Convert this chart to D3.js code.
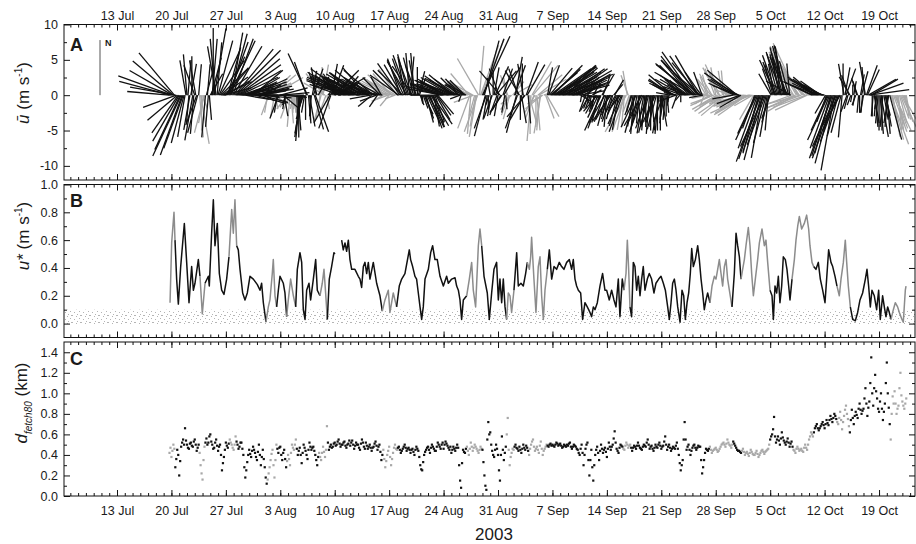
<!DOCTYPE html>
<html>
<head>
<meta charset="utf-8">
<script src="https://cdn.jsdelivr.net/npm/d3@7"></script>
<style>
  body { margin: 0; background: #fff; }
  svg { display: block; }
  text { font-family: "Liberation Sans", Arial, Helvetica, sans-serif; fill: #1a1a1a; }
</style>
</head>
<body>
<svg id="chart" width="916" height="544"></svg>
<script>
// ---- time axis -------------------------------------------------------------
const timeDomain = ["2003-07-06T04:25:00Z", "2003-10-23T15:00:00Z"];
const weekTicks = ["2003-07-13", "2003-07-20", "2003-07-27", "2003-08-03", "2003-08-10",
  "2003-08-17", "2003-08-24", "2003-08-31", "2003-09-07", "2003-09-14", "2003-09-21",
  "2003-09-28", "2003-10-05", "2003-10-12", "2003-10-19"];
const yearLabel = "2003";

// periods (day of year) flagged in grey
const greyPeriods = [[200.75, 201.4], [204.6, 205.3], [208.5, 209.3], [213.3, 214.6],
  [215.8, 217.0], [220.0, 221.0], [228.2, 230.0], [238.9, 240.9], [244.1, 245.0],
  [246.9, 249.3], [259.1, 260.0], [270.2, 273.2], [274.3, 277.9], [280.9, 283.5],
  [286.6, 288.2], [293.5, 295.6]];
const stickGreyPeriods = [[204.6, 205.3], [213.3, 214.6], [215.8, 217.0],
  [220.0, 221.0], [228.2, 230.0], [238.9, 240.9], [244.1, 245.0], [246.9, 249.3],
  [259.1, 260.0], [269.5, 273.2], [274.3, 275.9], [280.7, 283.3], [293.5, 295.6]];

// ---- panel A: mean wind, 3-hourly [direction (deg, towards), speed (m/s)] ----
const windStart = 200.75, windStep = 0.125;
const wind = [
  [275,6.0],[285,7.5],
  [290,8.0],[300,7.0],[310,7.5],[320,7.8],[280,6.5],[250,5.0],[230,5.5],[215,6.5],
  [210,7.5],[205,8.5],[205,9.5],[200,9.0],[200,8.0],[195,7.0],[190,6.0],[350,5.0],
  [355,5.8],[5,5.0],[185,4.0],[190,5.0],[10,4.5],[0,5.5],[190,6.5],[185,5.5],
  [340,4.5],[350,5.0],[200,4.5],[195,5.5],[5,4.4],[175,6.0],[170,7.0],[180,5.0],
  [160,2.0],[190,4.0],[195,5.5],[185,6.0],[15,4.0],[5,4.4],[185,4.5],[175,3.5],
  [30,3.5],[15,5.5],[5,8.0],[0,9.5],[10,9.6],[355,8.0],[350,7.0],[5,7.5],
  [15,8.0],[25,7.0],[35,6.0],[45,5.5],[55,4.5],[65,4.5],[75,4.0],[60,4.0],
  [40,5.0],[25,6.0],[15,7.0],[20,8.0],[25,8.5],[15,9.0],[10,9.0],[20,8.5],
  [30,8.0],[40,8.5],[45,9.0],[50,8.0],[55,7.5],[60,7.0],[65,6.0],[72,5.5],
  [80,5.0],[75,4.5],[70,4.5],[85,4.0],[100,3.5],[90,3.5],[75,4.0],[65,4.5],
  [60,5.0],[70,5.5],[80,5.5],[65,5.5],[50,5.5],[80,5.0],[105,4.5],[90,4.5],
  [70,4.5],[75,5.0],[80,5.0],[95,4.5],[105,4.0],[80,3.5],[60,3.0],[90,2.0],
  [120,1.5],[100,2.0],[90,2.5],[190,2.5],[200,3.0],[60,3.5],[45,4.0],[50,4.5],
  [60,5.0],[120,3.0],[190,3.0],[170,2.0],[150,1.5],[190,2.5],[200,3.5],[90,3.5],
  [75,4.0],[85,4.0],[95,3.5],[130,3.0],[170,3.0],[190,2.0],[200,1.5],[210,2.0],
  [220,2.5],[200,3.5],[185,4.5],[175,4.0],[165,3.5],[180,2.5],[195,2.0],[185,2.0],
  [180,2.5],[178,4.0],[175,5.0],[180,6.0],[185,6.5],[188,6.0],[190,5.5],[195,3.5],
  [200,2.0],[190,2.5],[180,3.5],[340,5.0],[335,6.5],[175,4.0],[170,4.5],[180,3.5],
  [185,3.0],[10,3.5],[20,4.0],[165,5.0],[160,5.5],[350,4.0],[340,3.5],[30,3.0],
  [45,3.5],[190,3.5],[195,4.0],[0,4.0],[10,4.4],[320,4.0],[300,3.5],[200,2.5],
  [170,2.0],[40,3.0],[60,3.5],[210,4.5],[200,5.0],[10,4.5],[20,4.5],[45,5.0],
  [60,5.0],[330,3.5],[320,3.0],[60,3.5],[80,4.0],[290,4.5],[300,5.0],[295,5.5],
  [40,3.5],[305,5.0],[300,5.5],[295,6.0],[290,6.0],[300,6.5],[305,6.5],[295,6.0],
  [285,5.5],[290,5.0],[300,5.0],[295,5.5],[295,6.0],[300,5.5],[310,5.0],[300,5.0],
  [290,5.0],[285,4.5],[280,4.0],[295,5.0],[305,5.5],[300,6.0],[295,6.0],[310,5.5],
  [320,5.0],[300,5.5],[290,6.0],[295,5.0],[300,4.5],[260,3.0],[230,2.5],[300,4.5],
  [310,5.5],[300,5.0],[290,4.5],[250,2.5],[215,2.0],[280,3.0],[300,3.5],[315,3.5],
  [330,3.0],[280,2.0],[240,1.8],[290,3.0],[310,3.5],[300,4.0],[295,4.5],[250,2.5],
  [220,2.0],[300,3.5],[320,4.0],[310,4.5],[300,5.0],[280,3.0],[250,1.5],[300,3.5],
  [325,4.5],[315,5.0],[305,5.0],[325,5.5],[340,5.5],[330,5.0],[315,5.0],[335,5.5],
  [350,5.5],[340,5.5],[330,5.5],[340,6.0],[345,6.0],[355,6.0],[5,5.5],[340,5.5],
  [325,5.0],[345,5.5],[355,6.0],[350,5.0],[340,4.5],[0,4.0],[15,3.5],[20,2.5],
  [160,1.5],[170,1.2],[175,1.0],[160,2.0],[155,3.0],[160,3.5],[165,4.0],[155,4.5],
  [150,4.5],[155,5.0],[160,5.0],[150,5.0],[145,5.0],[160,4.8],[170,4.5],[160,4.0],
  [150,4.0],[145,3.5],[140,3.5],[270,4.0],[285,5.0],[290,4.5],[290,4.0],[285,4.5],
  [280,5.0],[290,4.8],[300,4.5],[295,5.0],[295,5.0],[290,4.8],[285,4.5],[295,4.8],
  [300,5.0],[305,4.8],[310,4.5],[300,4.8],[290,5.0],[300,4.5],[305,4.0],[315,3.5],
  [320,3.0],[250,1.5],[200,1.0],[280,2.0],[300,3.0],[310,3.0],[315,3.0],[300,3.2],
  [290,3.5],[305,4.0],[320,4.0],[200,5.0],[185,5.5],[290,4.0],[300,4.0],[250,3.0],
  [195,3.0],[190,4.5],[190,6.0],[200,5.5],[330,6.0],[5,7.0],[20,7.5],[22,8.5],
  [25,9.2],[20,8.5],[15,8.0],[195,6.0],[200,5.0],[190,3.5],[180,2.0],[200,1.5],
  [350,2.5],[190,3.0],[200,3.5],[0,3.5],[10,4.0],[25,4.5],[40,4.5],[200,3.0],
  [190,3.0],[340,4.0],[320,4.5],[210,2.5],[215,3.0],[20,4.0],[30,4.5],[190,2.5],
  [175,2.0],[350,2.5],[340,3.0],[200,3.0],[195,3.5],[215,2.5],[230,2.0],[40,2.5],
  [60,3.0],[20,4.5],[10,5.5],[195,5.5],[200,5.0],[340,4.0],[330,4.0],[180,3.5],
  [170,4.0],[0,4.5],[350,4.5],[210,4.0],[220,4.0],[20,5.0],[30,5.0],[175,4.0],
  [165,4.0],[180,5.5],[185,6.5],[30,5.5],[40,5.5],[200,3.5],[210,3.0],[180,4.5],
  [175,5.0],[50,4.5],[60,4.5],[185,5.0],[190,5.5],[230,3.0],[240,2.5],[70,2.5],
  [80,3.0],[160,3.5],[150,3.5],[10,4.0],[20,4.5],[40,5.0],[50,5.0],[48,5.5],
  [45,6.0],[55,6.5],[60,6.5],[55,7.0],[55,7.0],[60,6.5],[65,6.0],[55,6.0],
  [50,6.5],[60,6.5],[70,6.0],[65,5.5],[60,5.5],[50,6.0],[45,6.0],[55,6.5],
  [65,7.0],[60,7.0],[55,6.5],[65,6.0],[75,5.5],[70,5.5],[60,6.0],[65,5.0],
  [70,4.5],[60,4.5],[50,4.0],[65,3.5],[80,3.5],[120,2.0],[190,1.0],[100,2.0],
  [60,3.0],[150,2.0],[200,2.5],[100,2.0],[40,2.0],[200,2.0],[210,2.5],[200,2.0],
  [190,1.5],[60,1.5],[30,2.0],[190,2.0],[200,2.5],[210,3.0],[220,3.0],[205,3.5],
  [195,4.0],[200,5.0],[205,5.5],[30,3.5],[20,3.0],[200,4.0],[210,4.5],[195,4.5],
  [185,4.5],[195,3.5],[200,3.0],[210,4.0],[215,4.5],[200,4.0],[195,3.5],[40,2.0],
  [30,2.5],[210,3.0],[205,3.0],[195,4.5],[190,5.0],[215,2.5],[220,2.0],[205,4.5],
  [200,5.5],[190,5.0],[185,4.5],[200,5.5],[210,6.0],[350,3.5],[340,3.0],[200,2.5],
  [195,2.0],[195,2.5],[200,3.0],[190,4.5],[185,5.5],[195,5.5],[205,5.0],[190,4.5],
  [175,4.5],[185,4.0],[195,4.0],[205,4.5],[210,5.0],[200,5.5],[190,5.5],[185,5.0],
  [180,4.5],[190,4.5],[200,5.0],[195,5.5],[185,5.5],[180,5.0],[175,5.0],[185,4.5],
  [195,4.0],[200,4.0],[205,4.5],[195,5.0],[180,5.0],[185,5.5],[190,5.5],[180,5.0],
  [170,4.5],[185,4.0],[200,4.0],[190,3.5],[185,3.5],[180,3.0],[175,2.5],[185,1.5],
  [190,1.0],[280,2.0],[300,3.0],[305,4.0],[310,4.5],[300,4.2],[295,4.0],[250,2.5],
  [200,2.0],[280,2.0],[320,2.0],[220,1.0],[180,1.0],[290,3.5],[300,4.5],[310,3.5],
  [315,3.0],[300,3.0],[290,3.5],[300,4.5],[305,5.0],[315,6.0],[320,6.5],[322,7.0],
  [325,7.5],[310,7.0],[300,6.5],[308,7.0],[315,7.0],[325,6.8],[330,6.5],[320,6.0],
  [310,5.0],[325,4.0],[340,3.5],[260,2.0],[200,1.5],[300,2.0],[330,2.5],[340,2.8],
  [345,3.0],[260,2.5],[240,2.5],[320,3.0],[330,3.5],[245,3.5],[250,3.5],[340,4.0],
  [350,4.0],[240,4.0],[235,4.0],[330,4.5],[335,4.8],[240,3.5],[245,3.5],[350,3.5],
  [355,3.5],[235,4.5],[230,4.5],[315,4.0],[320,4.0],[245,3.0],[250,3.0],[290,2.0],
  [300,2.0],[255,3.0],[260,3.0],[295,4.0],[300,4.5],[305,5.5],[310,5.5],[300,4.5],
  [290,4.0],[250,3.5],[240,3.5],[245,4.0],[250,4.5],[250,4.5],[255,4.5],[240,5.0],
  [235,5.0],[240,5.5],[245,6.0],[255,5.0],[260,4.5],[250,3.5],[240,3.0],[210,4.0],
  [200,5.0],[205,6.0],[205,7.0],[200,8.0],[195,8.5],[198,9.5],[200,10.0],[195,9.5],
  [190,9.0],[200,8.5],[205,8.0],[200,7.5],[195,7.0],[190,6.0],[185,5.0],[195,4.0],
  [200,3.5],[330,3.5],[340,4.0],[345,4.5],[350,4.5],[340,5.0],[335,5.5],[340,6.0],
  [345,6.0],[350,5.5],[355,5.0],[345,6.0],[340,6.5],[345,7.0],[350,7.0],[348,7.2],
  [345,7.2],[340,6.5],[335,6.0],[345,5.0],[355,4.5],[300,4.0],[250,4.0],[320,5.0],
  [330,5.5],[245,4.5],[240,4.5],[330,7.5],[335,8.1],[330,8.0],[325,7.5],[255,5.0],
  [250,5.0],[325,7.0],[320,7.0],[315,7.0],[310,6.5],[250,5.0],[245,5.0],[310,6.5],
  [305,6.0],[300,5.5],[300,5.0],[295,5.0],[295,4.5],[305,4.5],[310,4.0],[305,4.0],
  [300,4.5],[295,4.0],[290,4.0],[300,4.0],[305,3.5],[300,3.0],[295,3.0],[285,2.5],
  [280,2.0],[210,3.0],[200,4.0],[205,5.5],[205,7.0],[200,8.0],[195,8.5],[198,9.0],
  [200,9.5],[195,10.0],[190,10.8],[200,9.5],[205,8.0],[200,7.0],[195,6.0],[205,5.5],
  [210,5.0],[195,5.5],[185,6.0],[0,4.5],[350,4.5],[10,4.0],[20,4.0],[200,2.5],
  [195,2.0],[340,3.0],[330,3.0],[200,1.5],[190,1.0],[0,1.5],[10,2.0],[190,1.5],
  [200,1.5],[345,2.0],[340,2.5],[185,2.5],[180,2.5],[10,3.0],[15,3.5],[185,2.5],
  [190,2.5],[355,4.0],[350,4.8],[20,4.5],[25,4.0],[60,4.5],[82,5.7],[70,5.0],
  [59,4.4],[180,3.0],[185,3.0],[170,4.0],[175,4.5],[185,3.0],[190,2.0],[185,4.0],
  [180,5.0],[175,5.5],[170,6.0],[180,5.0],[185,4.5],[170,3.5],[165,3.0],[170,4.5],
  [175,5.5],[185,4.5],[190,4.0],[165,6.5],[160,7.4],[165,6.5],[170,6.0],[160,5.5],
  [155,5.5],[160,5.0],[165,4.5],[170,5.0],[175,5.0],[165,4.0],[160,3.5],[155,5.0],
  [150,6.0],[160,4.0],[165,2.0],[170,3.0],[170,3.5]
];

// ---- panel B: friction velocity u* (m/s) at [day of year, value] -------------
const ustar = [
  [200.82,0.15],[201.03,0.58],[201.33,0.80],[201.46,0.60],[201.67,0.32],[201.89,0.14],
  [202.19,0.41],[202.66,0.72],[202.96,0.44],[203.26,0.15],[203.60,0.41],[203.82,0.24],
  [204.03,0.29],[204.46,0.46],[204.67,0.34],[204.97,0.07],[205.32,0.29],[205.75,0.34],
  [205.87,0.27],[206.17,0.65],[206.39,0.89],[206.60,0.56],[206.90,0.72],[207.16,0.36],
  [207.46,0.24],[207.76,0.21],[208.10,0.32],[208.40,0.48],[208.75,0.82],[208.96,0.65],
  [209.17,0.89],[209.39,0.56],[209.60,0.53],[209.82,0.39],[210.16,0.22],[210.46,0.17],
  [210.76,0.22],[211.10,0.34],[211.53,0.32],[212.05,0.28],[212.39,0.24],[212.60,0.29],
  [212.82,0.15],[213.16,0.01],[213.46,0.12],[213.67,0.17],[213.97,0.36],[214.10,0.46],
  [214.32,0.20],[214.53,0.12],[214.75,0.24],[214.96,0.34],[215.39,0.29],[215.60,0.22],
  [215.82,0.05],[216.03,0.17],[216.33,0.32],[216.68,0.20],[216.98,0.12],[217.19,0.39],
  [217.53,0.51],[217.75,0.44],[217.96,0.10],[218.18,0.03],[218.39,0.24],[218.69,0.29],
  [218.90,0.17],[219.25,0.32],[219.55,0.46],[219.76,0.24],[220.10,0.20],[220.40,0.29],
  [220.62,0.39],[220.83,0.22],[221.05,0.03],[221.30,0.32],[221.60,0.41],[221.90,0.51],
  [222.03,0.50],[222.45,null],[222.89,0.60],[223.10,0.53],[223.32,0.58],[223.53,0.52],
  [223.75,0.60],[223.96,0.46],[224.18,0.39],[224.60,0.39],[225.03,0.34],[225.25,0.32],
  [225.46,0.26],[225.68,0.41],[225.89,0.44],[226.11,0.36],[226.32,0.44],[226.53,0.32],
  [226.96,0.44],[227.39,0.29],[227.82,0.20],[228.12,0.09],[228.46,0.17],[228.89,0.24],
  [229.10,0.08],[229.53,0.22],[229.96,0.12],[230.30,0.27],[230.61,0.32],[231.03,0.36],
  [231.59,0.53],[231.76,0.46],[232.02,0.41],[232.32,0.34],[232.53,0.32],[232.75,0.22],
  [232.97,0.12],[233.18,0.03],[233.39,0.12],[233.61,0.32],[234.04,0.39],[234.34,0.51],
  [234.59,0.56],[234.89,0.46],[235.19,0.46],[235.54,0.34],[235.97,0.27],[236.39,0.34],
  [236.61,0.29],[237.04,0.32],[237.47,0.33],[237.68,0.27],[237.90,0.24],[238.11,0.17],
  [238.32,0.03],[238.54,0.17],[238.97,0.20],[239.31,0.32],[239.61,0.44],[239.82,0.24],
  [240.12,0.12],[240.47,0.56],[240.68,0.68],[240.90,0.56],[241.20,0.34],[241.62,0.22],
  [241.88,0.03],[242.18,0.22],[242.48,0.39],[242.82,0.44],[243.04,0.17],[243.25,0.32],
  [243.47,0.15],[243.68,0.32],[243.90,0.12],[244.11,0.03],[244.32,0.22],[244.54,0.20],
  [244.75,0.08],[245.05,0.24],[245.40,0.51],[245.61,0.27],[245.95,0.29],[246.25,0.27],
  [246.55,0.36],[246.77,0.44],[247.03,0.39],[247.20,0.48],[247.32,0.62],[247.62,0.32],
  [247.88,0.08],[248.18,0.41],[248.40,0.48],[248.61,0.20],[248.83,0.03],[249.04,0.24],
  [249.34,0.39],[249.60,0.53],[249.90,0.32],[250.20,0.41],[250.54,0.39],[250.88,0.44],
  [251.18,0.41],[251.48,0.39],[251.83,0.44],[252.17,0.46],[252.47,0.39],[252.68,0.46],
  [252.90,0.32],[253.11,0.27],[253.33,0.24],[253.63,0.22],[253.88,0.03],[254.18,0.15],
  [254.48,0.12],[254.83,0.08],[255.04,0.05],[255.26,0.12],[255.47,0.10],[255.77,0.15],
  [256.11,0.27],[256.45,0.36],[256.75,0.24],[256.97,0.24],[257.31,0.17],[257.61,0.24],
  [257.91,0.17],[258.17,0.12],[258.47,0.32],[258.68,0.05],[258.98,0.32],[259.20,0.24],
  [259.46,0.36],[259.63,0.60],[259.80,0.39],[259.97,0.12],[260.18,0.05],[260.40,0.44],
  [260.61,0.41],[260.83,0.24],[261.04,0.34],[261.26,0.20],[261.47,0.32],[261.68,0.41],
  [261.90,0.24],[262.20,0.32],[262.45,0.36],[262.75,0.32],[263.05,0.22],[263.31,0.29],
  [263.66,0.32],[263.96,0.34],[264.26,0.29],[264.52,0.24],[264.82,0.12],[265.03,0.03],
  [265.25,0.15],[265.46,0.29],[265.68,0.32],[265.89,0.24],[266.11,0.12],[266.41,0.01],
  [266.66,0.24],[266.88,0.20],[267.09,0.03],[267.31,0.15],[267.52,0.22],[267.73,0.36],
  [267.91,0.54],[268.12,0.41],[268.38,0.46],[268.68,0.56],[268.89,0.46],[269.11,0.32],
  [269.32,0.22],[269.53,0.10],[269.75,0.17],[269.96,0.22],[270.26,0.15],[270.52,0.27],
  [270.82,0.34],[271.03,0.32],[271.25,0.39],[271.46,0.46],[271.68,0.36],[271.89,0.27],
  [272.11,0.41],[272.32,0.46],[272.53,0.32],[272.75,0.24],[273.09,0.12],[273.39,0.36],
  [273.61,0.65],[273.82,0.56],[274.04,0.48],[274.25,0.32],[274.46,0.39],[274.68,0.46],
  [274.89,0.56],[275.19,0.69],[275.41,0.56],[275.62,0.36],[275.84,0.20],[276.09,0.32],
  [276.39,0.46],[276.61,0.58],[276.95,0.68],[277.25,0.56],[277.46,0.60],[277.68,0.44],
  [277.98,0.24],[278.24,0.20],[278.41,0.03],[278.62,0.27],[278.84,0.22],[279.05,0.34],
  [279.26,0.15],[279.48,0.27],[279.69,0.48],[279.95,0.46],[280.16,0.39],[280.38,0.27],
  [280.55,0.17],[280.81,0.32],[281.11,0.46],[281.32,0.60],[281.54,0.70],[281.75,0.77],
  [282.05,0.68],[282.39,0.72],[282.69,0.78],[282.95,0.68],[283.12,0.56],[283.38,0.44],
  [283.59,0.41],[283.89,0.39],[284.19,0.44],[284.45,0.32],[284.75,0.24],[285.05,0.15],
  [285.26,0.32],[285.52,0.53],[285.82,0.44],[286.04,0.41],[286.34,0.34],[286.59,0.27],
  [286.89,0.20],[287.11,0.32],[287.41,0.44],[287.66,0.60],[287.84,0.44],[288.05,0.27],
  [288.31,0.12],[288.61,0.03],[288.95,0.02],[289.25,0.08],[289.55,0.17],[289.89,0.22],
  [290.24,0.32],[290.45,0.39],[290.66,0.27],[290.88,0.12],[291.09,0.24],[291.39,0.20],
  [291.69,0.10],[291.95,0.24],[292.16,0.03],[292.46,0.20],[292.68,0.12],[292.89,0.05],
  [293.11,0.12],[293.32,0.08],[293.54,0.03],[293.84,0.10],[294.09,0.15],[294.39,0.12],
  [294.61,0.08],[294.95,0.03],[295.12,0.01],[295.38,0.24],[295.47,0.27]
];

// ---- panel C: 80 % fetch distance (km), 3-hourly ------------------------------
const fetchStart = 200.75, fetchStep = 0.125;
const fetch80 = [
  0.42,0.47,
  0.38,0.44,0.50,0.46,0.28,0.36,0.45,0.40, 0.20,0.34,0.48,0.52,0.55,0.50,0.66,0.54,
  0.50,0.47,0.46,0.51,0.52,0.49,0.48,0.53, 0.55,0.50,0.44,0.47,0.50,0.42,0.30,0.22,
  0.16,0.35,0.48,0.52,0.56,0.50,0.52,0.58, 0.60,0.53,0.50,0.46,0.47,0.52,0.55,0.49,
  0.44,0.48,0.50,0.40,0.25,0.32,0.38,0.45, 0.52,0.49,0.47,0.51,0.55,0.52,0.50,0.47,
  0.45,0.50,0.58,0.53,0.50,0.46,0.48,0.52, 0.52,0.46,0.40,0.28,0.18,0.25,0.33,0.40,
  0.45,0.41,0.38,0.44,0.48,0.45,0.42,0.38, 0.35,0.43,0.50,0.40,0.30,0.38,0.45,0.36,
  0.28,0.18,0.12,0.16,0.22,0.28,0.35,0.41, 0.45,0.30,0.18,0.35,0.50,0.46,0.42,0.47,
  0.48,0.40,0.35,0.42,0.45,0.36,0.28,0.34, 0.40,0.36,0.30,0.42,0.50,0.47,0.45,0.50,
  0.55,0.46,0.40,0.44,0.47,0.40,0.32,0.42, 0.50,0.47,0.44,0.40,0.36,0.45,0.52,0.48,
  0.45,0.47,0.48,0.44,0.40,0.35,0.30,0.38, 0.42,0.38,0.35,0.42,0.48,0.43,0.38,0.45,
  0.68,0.52,0.45,0.48,0.50,0.47,0.48,0.51, 0.52,0.49,0.50,0.53,0.55,0.51,0.48,0.50,
  0.50,0.52,0.53,0.49,0.47,0.50,0.51,0.54, 0.49,0.52,0.54,0.50,0.46,0.49,0.52,0.50,
  0.50,0.47,0.45,0.51,0.55,0.52,0.48,0.46, 0.52,0.49,0.46,0.48,0.50,0.47,0.44,0.47,
  0.48,0.51,0.53,0.49,0.45,0.48,0.50,0.43, 0.35,0.40,0.45,0.36,0.28,0.34,0.40,0.44,
  0.48,0.38,0.30,0.36,0.42,0.47,0.50,0.46, 0.45,0.47,0.48,0.45,0.42,0.44,0.46,0.48,
  0.50,0.47,0.44,0.46,0.47,0.45,0.42,0.45, 0.46,0.43,0.40,0.45,0.48,0.46,0.44,0.38,
  0.30,0.26,0.25,0.33,0.40,0.43,0.45,0.47, 0.48,0.45,0.42,0.47,0.50,0.48,0.46,0.44,
  0.44,0.48,0.52,0.50,0.48,0.46,0.50,0.52, 0.46,0.50,0.53,0.51,0.49,0.47,0.45,0.48,
  0.42,0.45,0.48,0.46,0.44,0.47,0.50,0.47, 0.30,0.15,0.08,0.32,0.45,0.43,0.42,0.46,
  0.48,0.44,0.40,0.46,0.52,0.48,0.44,0.47, 0.50,0.48,0.46,0.44,0.42,0.45,0.48,0.46,
  0.45,0.33,0.20,0.10,0.06,0.55,0.72,0.60, 0.62,0.50,0.44,0.40,0.38,0.45,0.50,0.46,
  0.40,0.25,0.15,0.40,0.58,0.45,0.35,0.42, 0.48,0.60,0.76,0.45,0.30,0.38,0.42,0.46,
  0.45,0.48,0.50,0.47,0.46,0.44,0.48,0.45, 0.42,0.46,0.50,0.47,0.45,0.49,0.47,0.44,
  0.40,0.46,0.50,0.53,0.55,0.48,0.44,0.46, 0.48,0.45,0.42,0.49,0.53,0.46,0.40,0.44,
  0.46,0.48,0.50,0.49,0.48,0.50,0.51,0.49, 0.50,0.49,0.48,0.50,0.52,0.51,0.49,0.50,
  0.51,0.49,0.47,0.48,0.50,0.49,0.48,0.50, 0.49,0.51,0.52,0.48,0.46,0.48,0.50,0.49,
  0.48,0.46,0.45,0.42,0.40,0.46,0.50,0.42, 0.30,0.40,0.46,0.50,0.52,0.35,0.20,0.35,
  0.45,0.28,0.15,0.30,0.40,0.45,0.48,0.42, 0.35,0.44,0.50,0.46,0.42,0.45,0.47,0.43,
  0.38,0.46,0.52,0.48,0.45,0.48,0.50,0.56, 0.63,0.52,0.46,0.44,0.42,0.47,0.50,0.49,
  0.48,0.46,0.45,0.49,0.52,0.50,0.47,0.49, 0.50,0.47,0.44,0.47,0.49,0.48,0.46,0.49,
  0.52,0.49,0.47,0.46,0.45,0.48,0.50,0.49, 0.48,0.52,0.55,0.50,0.46,0.48,0.49,0.46,
  0.44,0.47,0.50,0.48,0.47,0.50,0.52,0.49, 0.46,0.48,0.49,0.53,0.58,0.50,0.45,0.48,
  0.50,0.47,0.44,0.46,0.48,0.47,0.46,0.49, 0.52,0.46,0.40,0.32,0.25,0.30,0.35,0.55,
  0.72,0.55,0.45,0.48,0.50,0.45,0.40,0.44, 0.47,0.49,0.50,0.47,0.45,0.47,0.49,0.48,
  0.48,0.35,0.22,0.28,0.35,0.42,0.46,0.45, 0.44,0.46,0.48,0.45,0.42,0.44,0.45,0.46,
  0.47,0.45,0.43,0.44,0.46,0.48,0.50,0.51, 0.52,0.50,0.48,0.51,0.55,0.52,0.50,0.49,
  0.47,0.50,0.53,0.51,0.49,0.47,0.45,0.44, 0.44,0.43,0.42,0.44,0.46,0.43,0.40,0.42,
  0.43,0.41,0.39,0.42,0.45,0.43,0.41,0.40, 0.40,0.42,0.44,0.41,0.38,0.40,0.42,0.44,
  0.45,0.43,0.41,0.43,0.44,0.45,0.46,0.50, 0.55,0.58,0.60,0.65,0.77,0.58,0.52,0.55,
  0.58,0.54,0.50,0.56,0.62,0.57,0.54,0.52, 0.50,0.53,0.56,0.52,0.48,0.51,0.53,0.48,
  0.45,0.44,0.42,0.46,0.48,0.46,0.44,0.45, 0.46,0.44,0.43,0.47,0.50,0.47,0.45,0.50,
  0.55,0.58,0.62,0.60,0.58,0.62,0.66,0.68, 0.70,0.66,0.64,0.66,0.68,0.70,0.72,0.69,
  0.66,0.70,0.74,0.71,0.69,0.74,0.78,0.75, 0.72,0.76,0.80,0.78,0.75,0.72,0.70,0.76,
  0.82,0.74,0.65,0.72,0.78,0.84,0.88,0.80, 0.75,0.68,0.62,0.74,0.84,0.76,0.70,0.78,
  0.82,0.79,0.76,0.85,0.90,0.84,0.80,0.83, 0.85,0.95,1.05,0.90,0.78,0.86,0.92,1.10,
  1.35,1.00,0.88,1.05,1.18,1.02,0.95,0.85, 0.82,0.92,1.00,0.85,0.74,0.82,0.90,1.10,
  1.30,1.00,0.86,0.70,0.55,0.80,0.97,0.90, 1.02,0.90,0.80,0.85,0.88,1.05,1.20,0.98,
  0.92,0.88,0.85,0.90,0.95
];

// ---- drawing ---------------------------------------------------------------
const svg = d3.select("#chart");
const ink = "#111", grey = "#a8a8a8";
const doyDate = d => new Date(Date.UTC(2003, 0, 1) + (d - 1) * 864e5);
const inPeriods = (list, d) => list.some(([a, b]) => d >= a && d <= b);

const x = d3.scaleUtc().domain(timeDomain.map(s => new Date(s))).range([64, 915]);
const [xL, xR] = x.range();
const weekDates = weekTicks.map(s => new Date(s + "T00:00:00Z"));
const dayDates = d3.utcDay.range(x.domain()[0], x.domain()[1]);
const dayFmt = d3.utcFormat("%-d %b");

const yA = d3.scaleLinear().domain([-12, 10]).range([180, 24.5]);
const yB = d3.scaleLinear().domain([-0.1, 1.0]).range([337.5, 184.5]);
const yC = d3.scaleLinear().domain([0, 1.5]).range([496, 342]);

// light stipple used for the low-u* band
const defs = svg.append("defs");
const pat = defs.append("pattern").attr("id", "stipple")
  .attr("patternUnits", "userSpaceOnUse").attr("width", 9).attr("height", 7);
[[0,0],[4,1],[7,3],[2,4],[5,6],[8,0]].forEach(([px, py]) =>
  pat.append("rect").attr("x", px).attr("y", py).attr("width", 1).attr("height", 1).attr("fill", "#b4b4b4"));

function styleAxis(g) {
  g.select(".domain").remove();
  g.selectAll(".tick line").attr("stroke", ink).attr("stroke-width", 1);
  g.selectAll(".tick text").attr("font-size", 12.5).attr("fill", "#1a1a1a")
    .style("font-family", '"Liberation Sans", Arial, sans-serif');
}

function frame(y, major, minor, fmt, opts) {
  const [bot, top] = y.range();
  const g = svg.append("g");
  g.append("g").attr("transform", `translate(${xL},0)`)
    .call(d3.axisLeft(y).tickValues(major).tickSize(-6).tickPadding(6).tickFormat(fmt)).call(styleAxis);
  g.append("g").attr("transform", `translate(${xL},0)`)
    .call(d3.axisLeft(y).tickValues(minor).tickSize(-3).tickFormat("")).call(styleAxis);
  g.append("g").attr("transform", `translate(${xR},0)`)
    .call(d3.axisRight(y).tickValues(major).tickSize(-6).tickFormat("")).call(styleAxis);
  g.append("g").attr("transform", `translate(${xR},0)`)
    .call(d3.axisRight(y).tickValues(minor).tickSize(-3).tickFormat("")).call(styleAxis);
  g.append("g").attr("transform", `translate(0,${bot})`)
    .call(d3.axisBottom(x).tickValues(weekDates).tickSize(-6).tickPadding(10)
      .tickFormat(opts.bottomLabels ? dayFmt : "")).call(styleAxis);
  g.append("g").attr("transform", `translate(0,${bot})`)
    .call(d3.axisBottom(x).tickValues(dayDates).tickSize(-3).tickFormat("")).call(styleAxis);
  g.append("g").attr("transform", `translate(0,${top})`)
    .call(d3.axisTop(x).tickValues(weekDates).tickSize(-6).tickPadding(5)
      .tickFormat(opts.topLabels ? dayFmt : "")).call(styleAxis);
  g.append("g").attr("transform", `translate(0,${top})`)
    .call(d3.axisTop(x).tickValues(dayDates).tickSize(-3).tickFormat("")).call(styleAxis);
  g.append("rect").attr("x", xL).attr("y", top).attr("width", xR - xL).attr("height", bot - top)
    .attr("fill", "none").attr("stroke", ink).attr("stroke-width", 1);
  svg.append("text").attr("x", 70).attr("y", opts.letterY).attr("font-size", 18)
    .attr("font-weight", "bold").text(opts.letter);
}

// ---- panel A: stick plot ----
const gA = svg.append("g");
const k = yA(0) - yA(1);
const sticks = wind.map(([dir, spd], i) => {
  const t = windStart + i * windStep, r = dir * Math.PI / 180;
  return { t, u: spd * Math.sin(r), v: spd * Math.cos(r), grey: inPeriods(stickGreyPeriods, t) };
});
sticks.sort((a, b) => (b.grey ? 1 : 0) - (a.grey ? 1 : 0));
gA.selectAll("line.stick").data(sticks).join("line").attr("class", "stick")
  .attr("x1", d => x(doyDate(d.t))).attr("y1", yA(0))
  .attr("x2", d => x(doyDate(d.t)) + d.u * k).attr("y2", d => yA(d.v))
  .attr("stroke", d => d.grey ? grey : ink).attr("stroke-width", 1.3);
// north marker
gA.append("line").attr("x1", 100).attr("x2", 100).attr("y1", yA(7.8)).attr("y2", yA(0))
  .attr("stroke", "#555").attr("stroke-width", 1);
gA.append("text").attr("x", 105).attr("y", yA(7.0)).attr("font-size", 9).attr("font-weight", "bold").text("N");
frame(yA, [-10, -5, 0, 5, 10], [-7.5, -2.5, 2.5, 7.5], d => String(d),
  { topLabels: true, letter: "A", letterY: 51 });

// ---- panel B: u* ----
const gB = svg.append("g");
gB.append("rect").attr("x", xL).attr("width", xR - xL)
  .attr("y", yB(0.1)).attr("height", yB(-0.01) - yB(0.1)).attr("fill", "url(#stipple)");
const runs = [];
for (let i = 1; i < ustar.length; i++) {
  const p = ustar[i - 1], q = ustar[i];
  if (p[1] == null || q[1] == null) continue;
  const g = inPeriods(greyPeriods, (p[0] + q[0]) / 2);
  const last = runs[runs.length - 1];
  if (last && last.grey === g && last.pts[last.pts.length - 1] === p) last.pts.push(q);
  else runs.push({ grey: g, pts: [p, q] });
}
const lineB = d3.line().x(d => x(doyDate(d[0]))).y(d => yB(d[1]));
gB.selectAll("path.run").data(runs).join("path").attr("class", "run")
  .attr("d", d => lineB(d.pts)).attr("fill", "none")
  .attr("stroke", d => d.grey ? "#8c8c8c" : ink).attr("stroke-width", 1.5)
  .attr("stroke-linejoin", "round");
frame(yB, [0, 0.2, 0.4, 0.6, 0.8, 1.0], [0.1, 0.3, 0.5, 0.7, 0.9], d3.format(".1f"),
  { letter: "B", letterY: 207 });

// ---- panel C: fetch distance ----
const gC = svg.append("g");
const pts = fetch80.map((v, i) => ({ t: fetchStart + i * fetchStep, v }));
gC.selectAll("rect.pt").data(pts).join("rect").attr("class", "pt")
  .attr("x", d => x(doyDate(d.t)) - 1.1).attr("y", d => yC(d.v) - 1.1)
  .attr("width", 2.2).attr("height", 2.2)
  .attr("fill", d => inPeriods(greyPeriods, d.t) ? "#a8a8a8" : ink);
frame(yC, [0, 0.2, 0.4, 0.6, 0.8, 1.0, 1.2, 1.4], [0.1, 0.3, 0.5, 0.7, 0.9, 1.1, 1.3],
  d3.format(".1f"), { bottomLabels: true, letter: "C", letterY: 365 });

// ---- axis titles ----
const titleA = svg.append("text").attr("transform", "translate(29,93) rotate(-90)")
  .attr("text-anchor", "middle").attr("font-size", 17);
titleA.append("tspan").attr("font-style", "italic").text("\u016B");
titleA.append("tspan").text(" (m s");
titleA.append("tspan").attr("font-size", 10).attr("dy", -7).text("-1");
titleA.append("tspan").attr("dy", 7).text(")");

const titleB = svg.append("text").attr("transform", "translate(29,236) rotate(-90)")
  .attr("text-anchor", "middle").attr("font-size", 17);
titleB.append("tspan").attr("font-style", "italic").text("u*");
titleB.append("tspan").text(" (m s");
titleB.append("tspan").attr("font-size", 10).attr("dy", -7).text("-1");
titleB.append("tspan").attr("dy", 7).text(")");

const titleC = svg.append("text").attr("transform", "translate(27,403) rotate(-90)")
  .attr("text-anchor", "middle").attr("font-size", 17);
titleC.append("tspan").attr("font-style", "italic").text("d");
titleC.append("tspan").attr("font-style", "italic").attr("font-size", 10).attr("dy", 5).text("fetch80");
titleC.append("tspan").attr("dy", -5).text(" (km)");

svg.append("text").attr("x", 494).attr("y", 540).attr("text-anchor", "middle")
  .attr("font-size", 17).text(yearLabel);
</script>
</body>
</html>
